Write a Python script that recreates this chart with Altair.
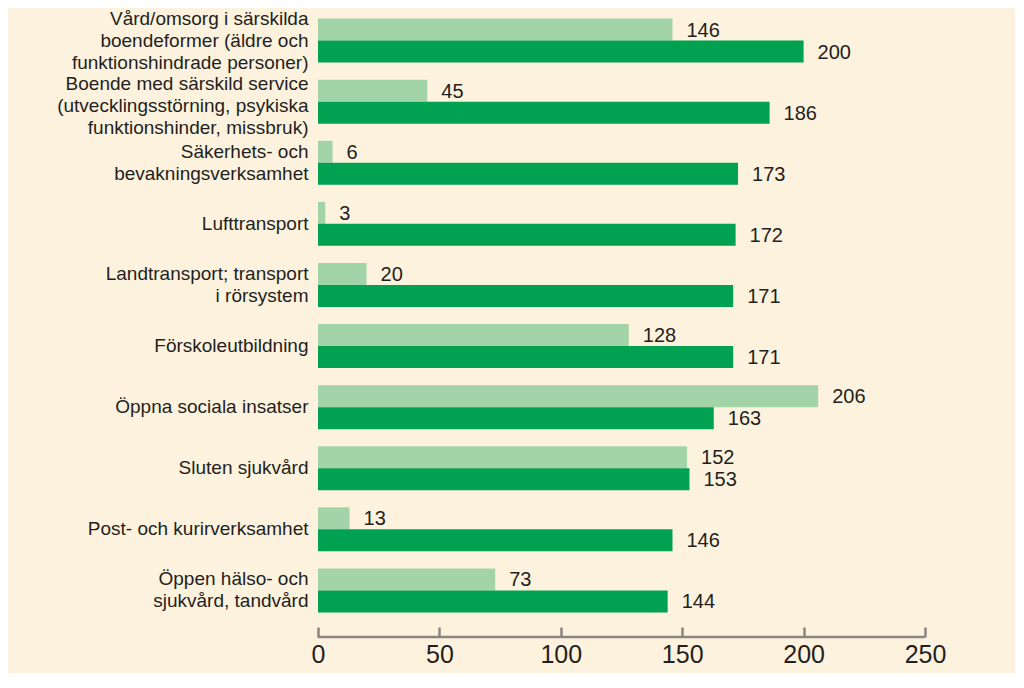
import altair as alt
import pandas as pd

categories = [
    "Vård/omsorg i särskilda|boendeformer (äldre och|funktionshindrade personer)",
    "Boende med särskild service|(utvecklingsstörning, psykiska|funktionshinder, missbruk)",
    "Säkerhets- och|bevakningsverksamhet",
    "Lufttransport",
    "Landtransport; transport|i rörsystem",
    "Förskoleutbildning",
    "Öppna sociala insatser",
    "Sluten sjukvård",
    "Post- och kurirverksamhet",
    "Öppen hälso- och|sjukvård, tandvård",
]
series_names = ["Serie 1", "Serie 2"]
light_values = [146, 45, 6, 3, 20, 128, 206, 152, 13, 73]
dark_values = [200, 186, 173, 172, 171, 171, 163, 153, 146, 144]
tick_values = [0, 50, 100, 150, 200, 250]

rows = []
for c, a, b in zip(categories, light_values, dark_values):
    rows.append({"cat": c, "series": series_names[0], "value": a})
    rows.append({"cat": c, "series": series_names[1], "value": b})
df = pd.DataFrame(rows)

FONT = "Liberation Sans"
TXT = "#231f20"
LINE_H = 22

label_offset = {
    "condition": [
        {"test": "indexof(datum.value, 'Boende med') == 0", "value": -LINE_H + 4},
        {"test": "length(split(datum.value, '|')) == 3", "value": -LINE_H},
        {"test": "length(split(datum.value, '|')) == 2", "value": -LINE_H / 2},
    ],
    "value": 0,
}

y_enc = alt.Y(
    "cat:N",
    sort=categories,
    scale=alt.Scale(paddingInner=0.28, paddingOuter=0.14),
    axis=alt.Axis(
        title=None,
        domain=False,
        ticks=False,
        labelExpr="split(datum.label, '|')",
        labelFont=FONT,
        labelFontSize=19,
        labelLineHeight=LINE_H,
        labelColor=TXT,
        labelPadding=10,
        labelLimit=400,
        labelOffset=label_offset,
    ),
)
yoff = alt.YOffset("series:N", sort=series_names, scale=alt.Scale(paddingInner=0, paddingOuter=0))
x_enc = alt.X(
    "value:Q",
    scale=alt.Scale(domain=[0, 250], nice=False),
    axis=alt.Axis(
        title=None,
        values=tick_values,
        grid=False,
        domain=False,
        tickSize=10,
        tickWidth=2.5,
        tickColor="#8c8680",
        offset=6,
        labelFont=FONT,
        labelFontSize=25,
        labelColor=TXT,
        labelPadding=5,
        labelFlush=False,
        labelOverlap=False,
    ),
)

base = alt.Chart(df)
bars = base.mark_bar().encode(
    x=x_enc,
    y=y_enc,
    yOffset=yoff,
    color=alt.Color(
        "series:N",
        sort=series_names,
        scale=alt.Scale(domain=series_names, range=["#a3d4a8", "#00a150"]),
        legend=None,
    ),
)
labels = base.mark_text(align="left", baseline="middle", dx=14, dy=1, font=FONT, fontSize=20, color=TXT).encode(
    x="value:Q",
    y=alt.Y("cat:N", sort=categories),
    yOffset=alt.YOffset("series:N", sort=series_names),
    text="value:Q",
)
axis_line = alt.Chart(pd.DataFrame({"a": [tick_values[0]], "b": [tick_values[-1]]})).mark_rule(
    color="#8c8680", strokeWidth=2.5
).encode(x="a:Q", x2="b:Q", y=alt.value(627))

chart = (
    alt.layer(bars, labels, axis_line)
    .properties(
        width=607,
        height=611,
        background="#fdf2de",
        autosize=alt.AutoSizeParams(type="none"),
        padding={"left": 310, "top": 2, "right": 90, "bottom": 52},
    )
    .configure_view(stroke=None)
)

chart.save("out.html", embed_options={"renderer": "svg", "actions": False})
